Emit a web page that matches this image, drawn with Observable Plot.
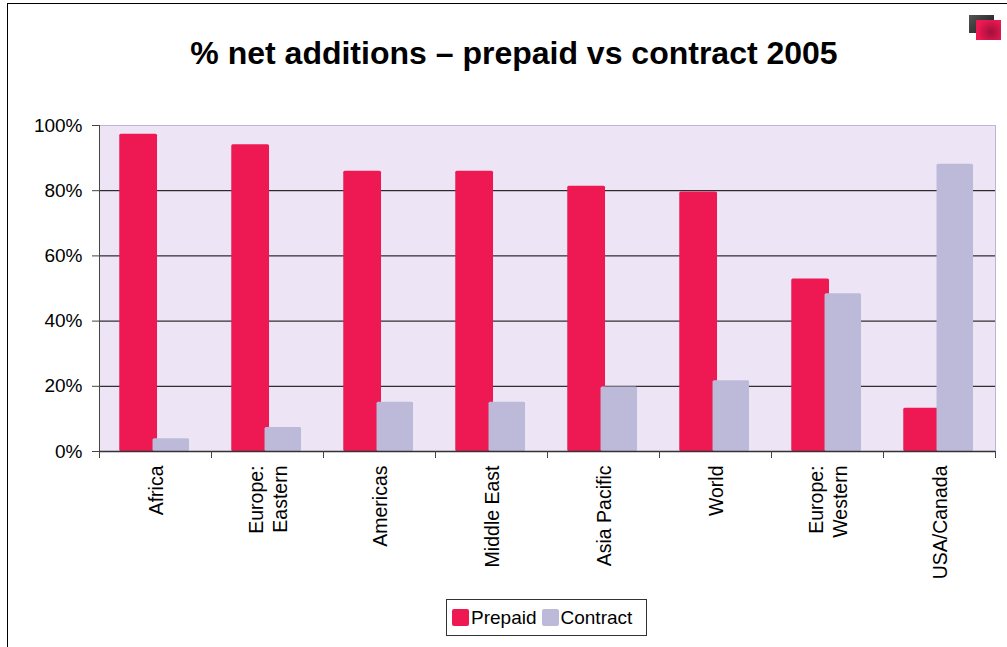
<!DOCTYPE html>
<html><head><meta charset="utf-8">
<script src="https://cdn.jsdelivr.net/npm/d3@7"></script>
<script src="https://cdn.jsdelivr.net/npm/@observablehq/plot@0.6"></script>
<style>
body{margin:0;background:#fff;font-family:"Liberation Sans",Arial,sans-serif;}
#page{position:relative;width:1007px;height:647px;overflow:hidden;background:#fff;}
#frameTop{position:absolute;left:7px;top:3px;right:0;height:0;border-top:1px solid #000;}
#frameLeft{position:absolute;left:7px;top:3px;bottom:0;width:0;border-left:1px solid #000;}
#icon .a{position:absolute;left:969px;top:15px;width:25px;height:18px;background:linear-gradient(135deg,#555,#1a1a1a);}
#icon .b{position:absolute;left:976px;top:20px;width:25px;height:20px;background:radial-gradient(circle at 60% 60%,#a0103a,#ee1852 70%);}
#title{position:absolute;left:0;width:1028px;top:33px;text-align:center;font-weight:bold;font-size:32px;line-height:40px;color:#000;}
#chart{position:absolute;left:0;top:100px;}
#legend{position:absolute;left:446px;top:599px;width:199px;height:35px;border:1.5px solid #333;display:flex;align-items:center;font-size:19px;color:#000;}
#legend .sw{width:17px;height:17px;border-radius:2px;margin-left:5px;margin-right:2px;}
</style></head><body>
<div id="page">
 <div id="frameTop"></div><div id="frameLeft"></div>
 <div id="icon"><div class="a"></div><div class="b"></div></div>
 <div id="title">% net additions – prepaid vs contract 2005</div>
 <div id="chart"></div>
 <div id="legend"></div>
</div>
<script>
const regions = ["Africa","Europe:\nEastern","Americas","Middle East","Asia Pacific","World","Europe:\nWestern","USA/Canada"];
const prepaid = [0.973,0.941,0.860,0.860,0.814,0.796,0.529,0.133];
const contract = [0.039,0.074,0.151,0.151,0.198,0.217,0.484,0.881];
const seriesNames = ["Prepaid","Contract"];
const seriesColors = ["#ee1852","#bcbad8"];
const yTicks = [0,0.2,0.4,0.6,0.8,1];

const W = 1007, H = 490, ml = 99, mr = 12;
const step = (W - ml - mr) / regions.length;
const rows = regions.map((r,i)=>({region:r, prepaid:prepaid[i], contract:contract[i]}));

const chart = Plot.plot({
  width: W, height: H,
  marginTop: 25, marginBottom: 139, marginLeft: ml, marginRight: mr,
  style: {fontFamily: "Liberation Sans, Arial, sans-serif", fontSize: "19px", color: "#000", background: "transparent", overflow: "visible"},
  x: {domain: regions, padding: 0, label: null, axis: null},
  y: {domain: [0,1], label: null, axis: null},
  marks: [
    Plot.frame({fill: "#ede5f5", stroke: "#bdb6d2"}),
    Plot.ruleY(yTicks.slice(1,-1), {stroke: "#000", strokeWidth: 1}),
    Plot.barY(rows, {x: "region", y: "prepaid", fill: seriesColors[0], insetLeft: step*0.181, insetRight: step*0.482, rx: 1.5}),
    Plot.barY(rows, {x: "region", y: "contract", fill: seriesColors[1], insetLeft: step*0.478, insetRight: step*0.196, rx: 1.5}),
    Plot.ruleY([0], {stroke: "#333", strokeWidth: 1.5}),
    Plot.frame({anchor: "left", stroke: "#444"}),
    Plot.axisY({ticks: yTicks, tickFormat: d3.format(".0%"), tickSize: 7, tickPadding: 10, fontSize: 19, stroke: "#444"}),
    Plot.axisX({tickSize: 7, dx: -step/2, tickFormat: () => "", stroke: "#444"}),
    Plot.axisX({ticks: [regions[regions.length-1]], tickSize: 7, dx: step/2, tickFormat: () => "", stroke: "#444"}),
    Plot.axisX({tickSize: 0, tickPadding: 14, tickRotate: -90, fontSize: 19.5, lineHeight: 1.2})
  ]
});
document.getElementById("chart").appendChild(chart);

const legend = document.getElementById("legend");
seriesNames.forEach((n,i)=>{
  const sw = document.createElement("div"); sw.className = "sw"; sw.style.background = seriesColors[i];
  const t = document.createElement("span"); t.textContent = n;
  legend.appendChild(sw); legend.appendChild(t);
});
</script>
</body></html>
